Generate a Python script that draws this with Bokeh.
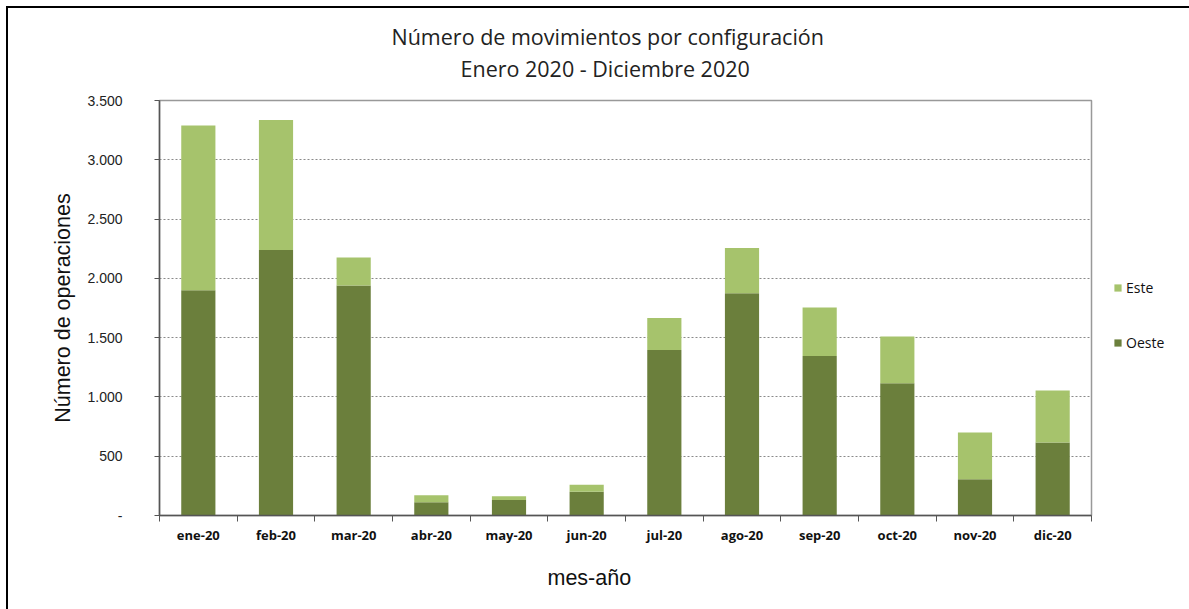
from bokeh.plotting import figure
from bokeh.models import (FixedTicker, Legend, LegendItem, ColumnDataSource, Range1d, Title)
from bokeh.embed import file_html
from bokeh.resources import INLINE

months = ["ene-20", "feb-20", "mar-20", "abr-20", "may-20", "jun-20",
          "jul-20", "ago-20", "sep-20", "oct-20", "nov-20", "dic-20"]
oeste = [1900, 2240, 1940, 112, 130, 200, 1395, 1875, 1345, 1115, 305, 615]
este = [1390, 1095, 235, 58, 32, 60, 270, 380, 410, 395, 395, 440]
y_ticks = [0, 500, 1000, 1500, 2000, 2500, 3000, 3500]
y_labels = ["-", "500", "1.000", "1.500", "2.000", "2.500", "3.000", "3.500"]
title_lines = ["Número de movimientos por configuración", "Enero 2020 - Diciembre 2020"]
x_title = "mes-año"
y_title = "Número de operaciones"

C_ESTE = "#a6c36c"
C_OESTE = "#6b7f3c"

W, H = 1181, 601
FL, FT, FR, FB = 151, 92, 1083, 507  # frame edges in canvas pixels

p = figure(frame_width=FR - FL, frame_height=FB - FT,
           output_backend="svg", toolbar_location=None,
           x_range=Range1d(0, len(months)), y_range=Range1d(0, 3500),
           min_border_left=FL, min_border_top=FT,
           min_border_right=W - FR, min_border_bottom=H - FB)
p.styles = {"margin-left": "6px", "margin-top": "6px",
            "border-left": "2px solid black", "border-top": "2px solid black"}
p.title.visible = False

centers = [i + 0.5 for i in range(len(months))]
top_este = [o + e for o, e in zip(oeste, este)]
src = ColumnDataSource(dict(x=centers, oeste=oeste, b=oeste, t=top_este))
r_o = p.vbar(x="x", top="oeste", bottom=0, width=0.44, source=src,
             fill_color=C_OESTE, line_color=None)
r_e = p.vbar(x="x", top="t", bottom="b", width=0.44, source=src,
             fill_color=C_ESTE, line_color=None)

# x axis
p.xaxis.ticker = FixedTicker(ticks=centers, minor_ticks=list(range(len(months) + 1)))
p.xaxis.major_label_overrides = {c: m for c, m in zip(centers, months)}
p.xaxis.major_tick_out = 0
p.xaxis.major_tick_in = 0
p.xaxis.minor_tick_out = 6
p.xaxis.minor_tick_in = 0
p.xaxis.minor_tick_line_color = "#555555"
p.xaxis.axis_line_color = "#555555"
p.xaxis.axis_line_width = 1.5
p.xaxis.major_label_text_font = "Open Sans"
p.xaxis.major_label_text_font_style = "bold"
p.xaxis.major_label_text_font_size = "13px"
p.xaxis.major_label_text_color = "#111111"
p.xaxis.major_label_standoff = 4

# y axis
p.yaxis.ticker = FixedTicker(ticks=y_ticks)
p.yaxis.major_label_overrides = {t: l for t, l in zip(y_ticks, y_labels)}
p.yaxis.minor_tick_line_color = None
p.yaxis.major_tick_out = 5
p.yaxis.major_tick_in = 0
p.yaxis.major_tick_line_color = "#555555"
p.yaxis.axis_line_color = "#555555"
p.yaxis.axis_line_width = 1.5
p.yaxis.major_label_text_font = "Liberation Sans"
p.yaxis.major_label_text_font_size = "14px"
p.yaxis.major_label_text_color = "#222222"
p.yaxis.major_label_standoff = 32

p.xgrid.grid_line_color = None
p.ygrid.grid_line_color = "#8a8a8a"
p.ygrid.grid_line_dash = "2 2"
p.ygrid.grid_line_width = 1
p.outline_line_color = "#999999"
p.outline_line_width = 1.5

# titles (added nearest-first); a tiny spacer title sits next to the frame
p.add_layout(Title(text="\u200b", standoff=15, text_font_size="1px"), "above")
p.add_layout(Title(text=title_lines[1], align="left", offset=460 - 159, standoff=0,
                   text_font="Open Sans", text_font_size="21.5px",
                   text_font_style="normal", text_color="#222222"), "above")
p.add_layout(Title(text=title_lines[0], align="left", offset=391 - 159, standoff=1,
                   text_font="Open Sans", text_font_size="21.5px",
                   text_font_style="normal", text_color="#222222"), "above")

# axis titles
p.add_layout(Title(text=x_title, align="left", offset=547 - 159, standoff=34,
                   text_font="Liberation Sans", text_font_size="21.5px",
                   text_font_style="normal", text_color="#111111"), "below")
p.add_layout(Title(text=y_title, align="center", standoff=19,
                   text_font="Liberation Sans", text_font_size="21.5px",
                   text_font_style="normal", text_color="#111111"), "left")

legend = Legend(items=[LegendItem(label="Este", renderers=[r_e]),
                       LegendItem(label="Oeste", renderers=[r_o])],
                location=(22, 163), orientation="vertical")
legend.glyph_width = 9
legend.glyph_height = 9
legend.label_height = 16
legend.spacing = 36
legend.padding = 0
legend.margin = 0
legend.label_standoff = 4
legend.border_line_color = None
legend.background_fill_alpha = 0
legend.label_text_font = "Open Sans"
legend.label_text_font_size = "14px"
legend.label_text_color = "#111111"
p.add_layout(legend, "right")

open("out.html", "w").write(file_html(p, INLINE))
